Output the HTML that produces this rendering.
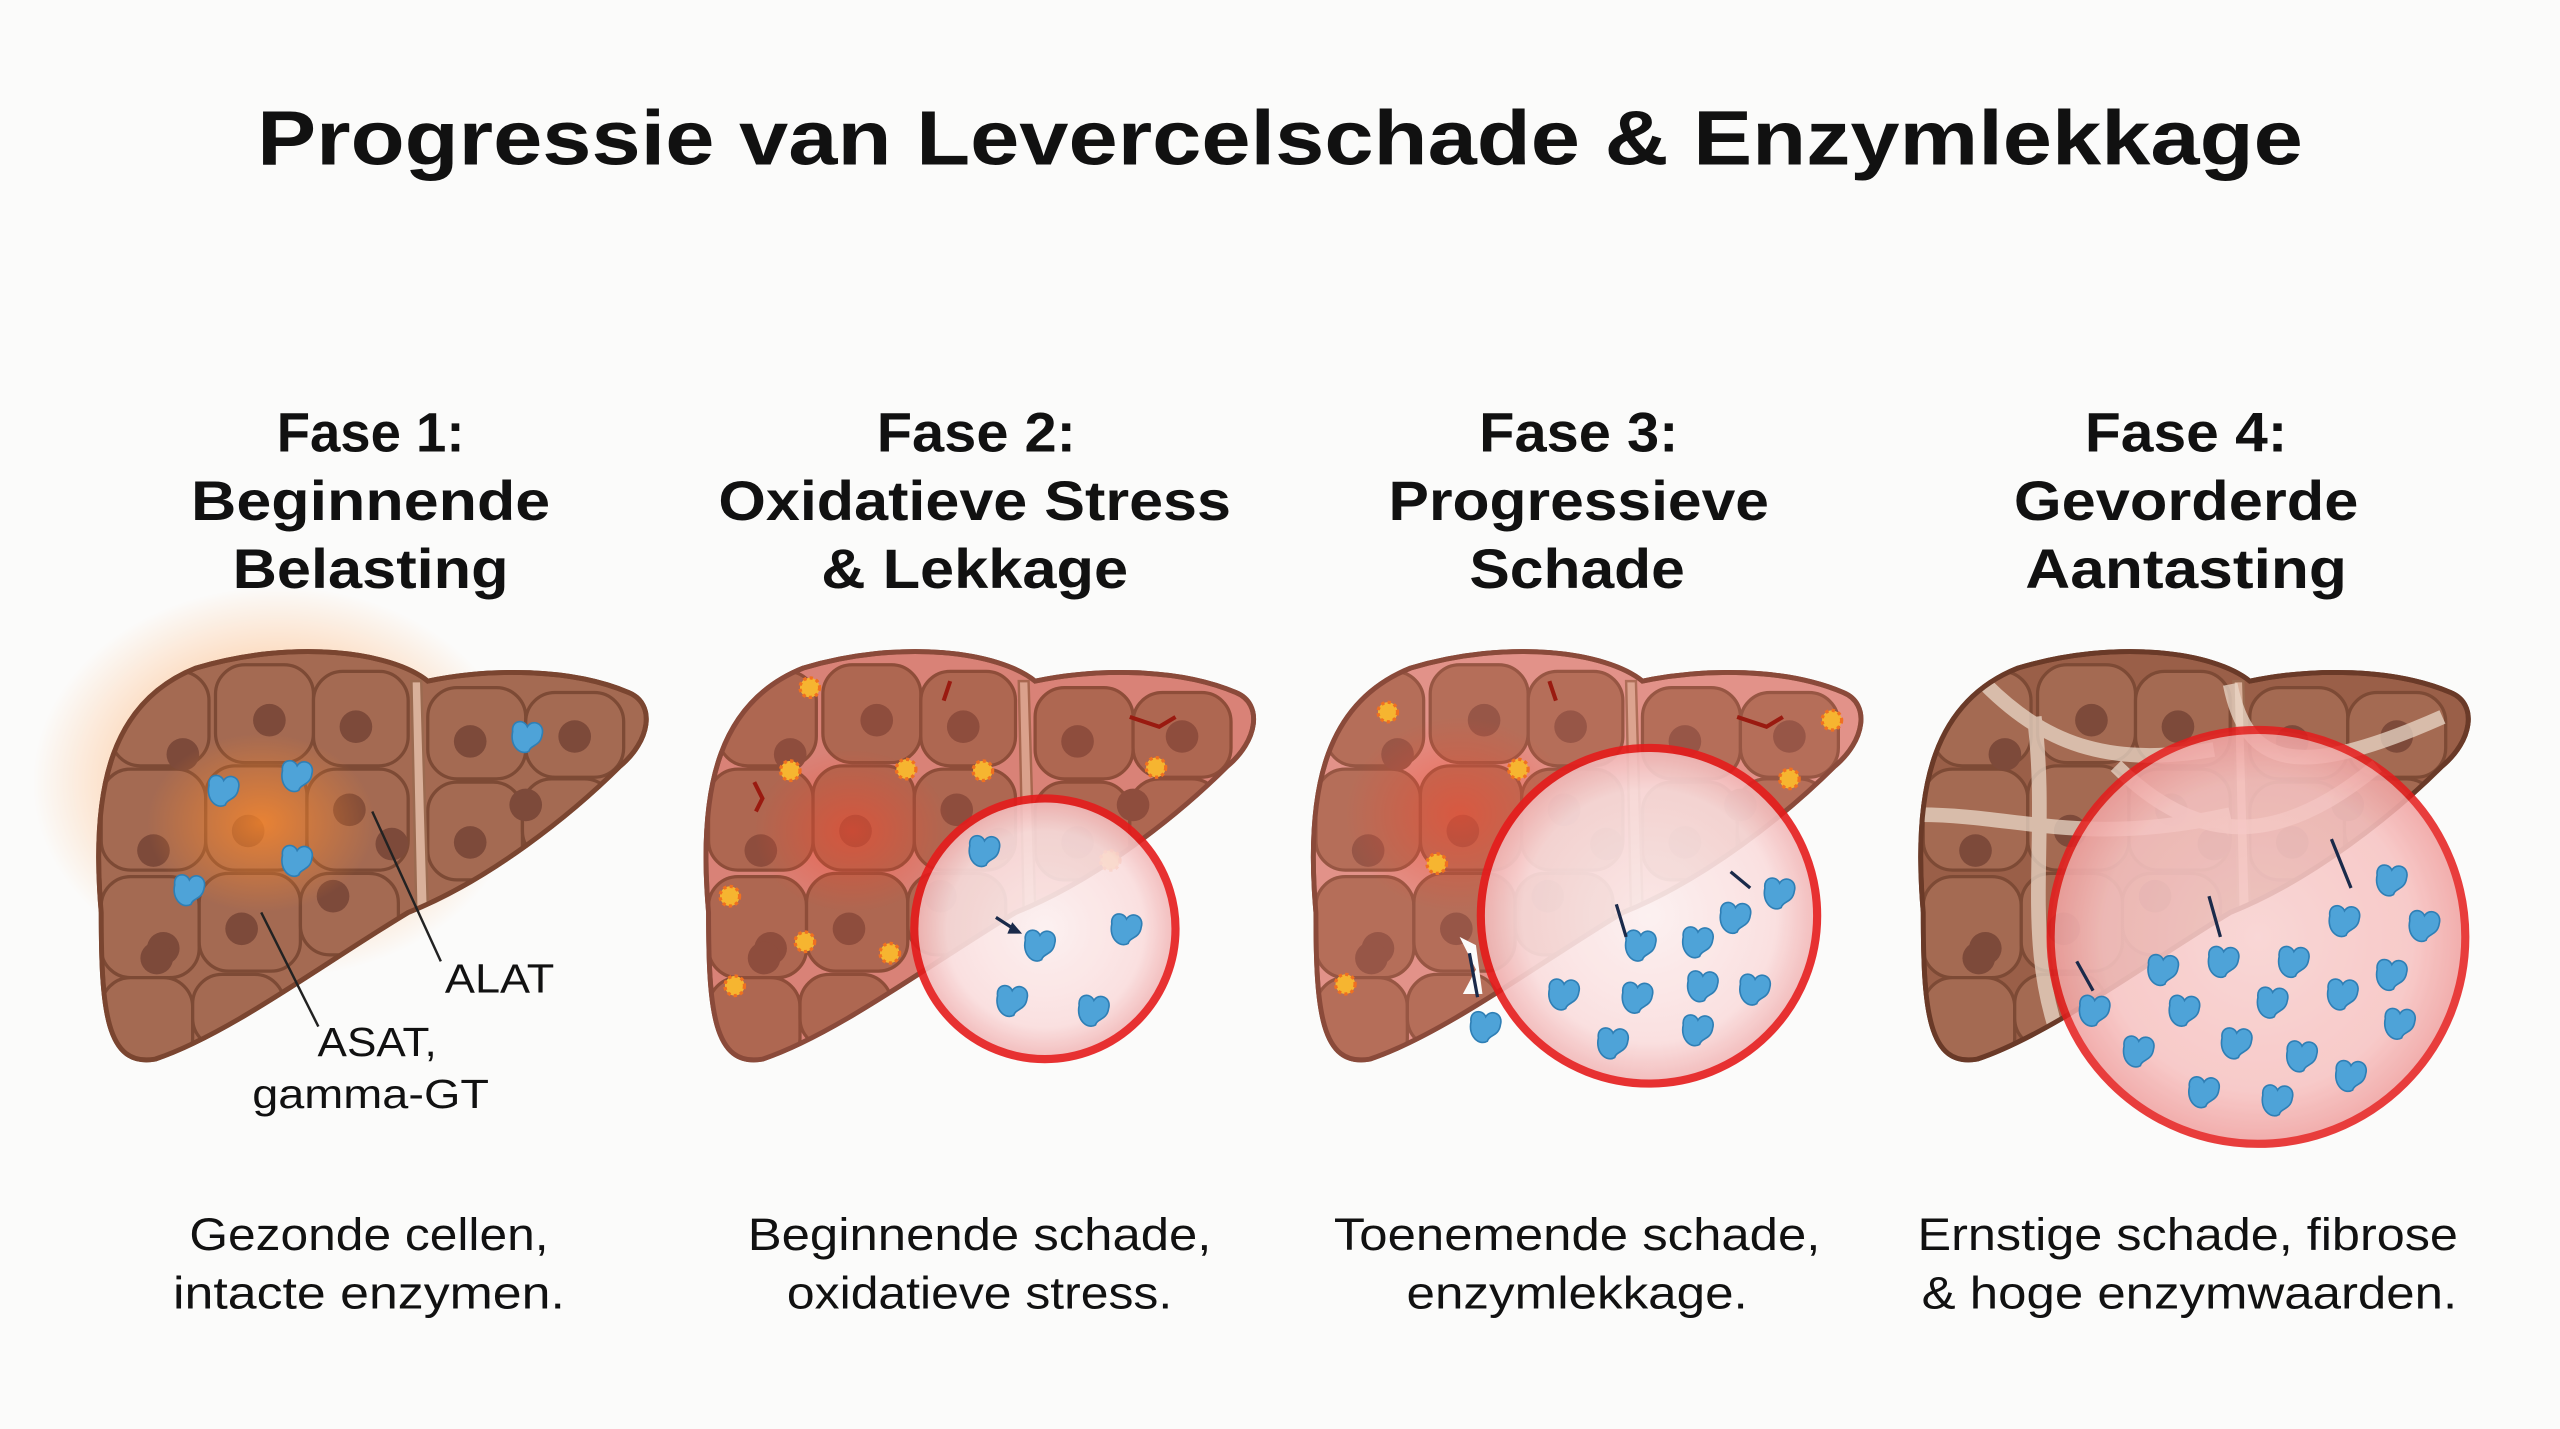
<!DOCTYPE html>
<html><head><meta charset="utf-8"><style>
html,body{margin:0;padding:0;background:#fbfbfa;}
svg{display:block;}
text{font-family:"Liberation Sans",sans-serif;fill:#111;}
</style></head><body>
<svg width="2560" height="1429" viewBox="0 0 1568 877" preserveAspectRatio="none" xmlns="http://www.w3.org/2000/svg">
<defs>
<path id="lv" d="M62,560 C55,480 70,430 120,410 C180,392 240,400 262,418 C300,410 350,410 385,425 C402,432 398,455 380,470 C350,500 300,540 250,560 C200,590 140,635 95,650 C65,655 62,620 62,560 Z"/>
<clipPath id="lc"><use href="#lv"/></clipPath>
<g id="cells">
<g fill="#a46a52" stroke="#7d4a35" stroke-width="2">
<rect x="68" y="412" width="60" height="58" rx="18"/><rect x="132" y="408" width="60" height="60" rx="18"/><rect x="192" y="412" width="58" height="58" rx="18"/>
<rect x="262" y="422" width="60" height="56" rx="18"/><rect x="322" y="425" width="60" height="52" rx="18"/>
<rect x="62" y="472" width="64" height="62" rx="18"/><rect x="126" y="470" width="62" height="64" rx="18"/><rect x="188" y="472" width="62" height="62" rx="18"/>
<rect x="262" y="480" width="58" height="60" rx="18"/><rect x="320" y="478" width="56" height="50" rx="18"/>
<rect x="62" y="538" width="60" height="62" rx="18"/><rect x="122" y="536" width="62" height="60" rx="18"/><rect x="184" y="536" width="60" height="50" rx="18"/>
<rect x="62" y="600" width="56" height="55" rx="18"/><rect x="118" y="598" width="56" height="45" rx="18"/>
</g>
<g fill="#7d4a3a">
<circle cx="112" cy="463" r="10"/><circle cx="165" cy="442" r="10"/><circle cx="218" cy="446" r="10"/><circle cx="288" cy="455" r="10"/><circle cx="352" cy="452" r="10"/>
<circle cx="94" cy="522" r="10"/><circle cx="152" cy="510" r="10"/><circle cx="214" cy="497" r="10"/><circle cx="288" cy="517" r="10"/><circle cx="322" cy="494" r="10"/>
<circle cx="100" cy="582" r="10"/><circle cx="148" cy="570" r="10"/><circle cx="204" cy="550" r="10"/><circle cx="96" cy="588" r="10"/><circle cx="240" cy="518" r="10"/>
</g>
<path d="M252,418 L258,418 L262,555 L255,560 Z" fill="#d9b09a" stroke="#9b6a50" stroke-width="1.5"/>
</g>
<radialGradient id="glow1"><stop offset="0" stop-color="#ff8a2a" stop-opacity=".75"/><stop offset="1" stop-color="#ff8a2a" stop-opacity="0"/></radialGradient>
<radialGradient id="glowR"><stop offset="0" stop-color="#f04a30" stop-opacity=".6"/><stop offset="1" stop-color="#f04a30" stop-opacity="0"/></radialGradient>
<radialGradient id="mag"><stop offset="0" stop-color="#fdf0f0"/><stop offset=".75" stop-color="#fadede"/><stop offset="1" stop-color="#f2b5b5"/></radialGradient>
<g id="enz"><path d="M-9,-3 C-10,-10 -2,-11 0,-6 C3,-11 11,-8 9,-1 C8,6 2,5 1,9 C-4,12 -11,6 -9,-3 Z" fill="#4ea3d8" stroke="#2f7fb5" stroke-width="1"/></g>
<g id="burst"><circle r="6" fill="#f6b530" stroke="#f07020" stroke-width="2" stroke-dasharray="2 2"/></g>
</defs>

<text x="784" y="101" text-anchor="middle" font-size="47" font-weight="bold" textLength="1253" lengthAdjust="spacingAndGlyphs">Progressie van Levercelschade &amp; Enzymlekkage</text>

<g font-size="34" font-weight="bold" text-anchor="middle">
<text x="227" y="277" textLength="115" lengthAdjust="spacingAndGlyphs">Fase 1:</text><text x="227" y="319" textLength="220" lengthAdjust="spacingAndGlyphs">Beginnende</text><text x="227" y="361" textLength="169" lengthAdjust="spacingAndGlyphs">Belasting</text>
<text x="598" y="277" textLength="122" lengthAdjust="spacingAndGlyphs">Fase 2:</text><text x="597" y="319" textLength="314" lengthAdjust="spacingAndGlyphs">Oxidatieve Stress</text><text x="597" y="361" textLength="188" lengthAdjust="spacingAndGlyphs">&amp; Lekkage</text>
<text x="967" y="277" textLength="122" lengthAdjust="spacingAndGlyphs">Fase 3:</text><text x="967" y="319" textLength="233" lengthAdjust="spacingAndGlyphs">Progressieve</text><text x="966" y="361" textLength="132" lengthAdjust="spacingAndGlyphs">Schade</text>
<text x="1339" y="277" textLength="124" lengthAdjust="spacingAndGlyphs">Fase 4:</text><text x="1339" y="319" textLength="211" lengthAdjust="spacingAndGlyphs">Gevorderde</text><text x="1339" y="361" textLength="197" lengthAdjust="spacingAndGlyphs">Aantasting</text>
</g>
<g font-size="28" text-anchor="middle">
<text x="226" y="767" textLength="220" lengthAdjust="spacingAndGlyphs">Gezonde cellen,</text><text x="226" y="803" textLength="240" lengthAdjust="spacingAndGlyphs">intacte enzymen.</text>
<text x="600" y="767" textLength="284" lengthAdjust="spacingAndGlyphs">Beginnende schade,</text><text x="600" y="803" textLength="236" lengthAdjust="spacingAndGlyphs">oxidatieve stress.</text>
<text x="966" y="767" textLength="298" lengthAdjust="spacingAndGlyphs">Toenemende schade,</text><text x="966" y="803" textLength="209" lengthAdjust="spacingAndGlyphs">enzymlekkage.</text>
<text x="1340" y="767" textLength="331" lengthAdjust="spacingAndGlyphs">Ernstige schade, fibrose</text><text x="1341" y="803" textLength="328" lengthAdjust="spacingAndGlyphs">&amp; hoge enzymwaarden.</text>
</g>

<!-- Liver 1 -->
<ellipse cx="170" cy="480" rx="150" ry="120" fill="url(#glow1)"/>
<g><use href="#lv" fill="#a46a52" stroke="#7a4530" stroke-width="3"/>
<g clip-path="url(#lc)"><use href="#cells"/><ellipse cx="160" cy="505" rx="70" ry="55" fill="url(#glow1)"/></g>
<use href="#lv" fill="none" stroke="#7a4530" stroke-width="3"/></g>
<use href="#enz" x="137" y="485"/><use href="#enz" x="182" y="476"/><use href="#enz" x="182" y="528"/><use href="#enz" x="116" y="546"/><use href="#enz" x="323" y="452"/>
<path d="M228,498 L270,590" stroke="#222" stroke-width="1.5"/><path d="M160,560 L195,630" stroke="#222" stroke-width="1.5"/>
<g font-size="25" text-anchor="middle"><text x="306" y="609" textLength="67" lengthAdjust="spacingAndGlyphs">ALAT</text><text x="231" y="648" textLength="73" lengthAdjust="spacingAndGlyphs">ASAT,</text><text x="227" y="680" textLength="145" lengthAdjust="spacingAndGlyphs">gamma-GT</text></g>

<!-- Liver 2 -->
<g transform="translate(372,0)">
<use href="#lv" fill="#d88a80" stroke="#8a4a3a" stroke-width="3"/>
<g clip-path="url(#lc)"><use href="#cells"/><rect x="50" y="390" width="360" height="270" fill="#e06050" opacity=".18"/><ellipse cx="150" cy="510" rx="60" ry="50" fill="url(#glowR)"/></g>
<use href="#lv" fill="none" stroke="#8a4a3a" stroke-width="3"/>
<use href="#burst" x="124" y="422"/><use href="#burst" x="112" y="473"/><use href="#burst" x="183" y="472"/><use href="#burst" x="230" y="473"/><use href="#burst" x="75" y="550"/><use href="#burst" x="121" y="578"/><use href="#burst" x="173" y="585"/><use href="#burst" x="78" y="605"/><use href="#burst" x="336" y="471"/><use href="#burst" x="308" y="528"/>
<path d="M90,480 l5,10 -4,8 M210,418 l-4,12 M320,440 l18,6 10,-6" stroke="#9a1a10" stroke-width="2.5" fill="none"/>
</g>
<circle cx="640" cy="570" r="80" fill="url(#mag)" opacity=".9" stroke="#e51c1c" stroke-width="5"/>
<use href="#enz" x="603" y="522"/><use href="#enz" x="637" y="580"/><use href="#enz" x="690" y="570"/><use href="#enz" x="620" y="614"/><use href="#enz" x="670" y="620"/>
<path d="M610,563 L624,572" stroke="#1a2a4a" stroke-width="2"/><path d="M620,566 l6,7 -9,0z" fill="#1a2a4a"/>

<!-- Liver 3 -->
<g transform="translate(744,0)">
<use href="#lv" fill="#e09a92" stroke="#8a4a3a" stroke-width="3"/>
<g clip-path="url(#lc)"><use href="#cells"/><rect x="50" y="390" width="360" height="270" fill="#e87a70" opacity=".25"/><ellipse cx="150" cy="500" rx="70" ry="60" fill="url(#glowR)"/></g>
<use href="#lv" fill="none" stroke="#8a4a3a" stroke-width="3"/>
<use href="#burst" x="106" y="437"/><use href="#burst" x="186" y="472"/><use href="#burst" x="136" y="530"/><use href="#burst" x="80" y="604"/><use href="#burst" x="378" y="442"/><use href="#burst" x="352" y="478"/>
<path d="M205,418 l4,12 M320,440 l18,6 10,-6" stroke="#9a1a10" stroke-width="2.5" fill="none"/>
<path d="M150,575 l10,20 -8,15 12,0 -4,-30z" fill="#fbfbfa"/>
</g>
<circle cx="1010" cy="562" r="103" fill="url(#mag)" opacity=".9" stroke="#e51c1c" stroke-width="5"/>
<g><use href="#enz" x="1005" y="580"/><use href="#enz" x="1040" y="578"/><use href="#enz" x="1063" y="563"/><use href="#enz" x="1090" y="548"/><use href="#enz" x="958" y="610"/><use href="#enz" x="1003" y="612"/><use href="#enz" x="1043" y="605"/><use href="#enz" x="1075" y="607"/><use href="#enz" x="988" y="640"/><use href="#enz" x="1040" y="632"/><use href="#enz" x="910" y="630"/></g>
<path d="M990,555 L996,575 M1060,535 L1072,545 M900,585 L905,612" stroke="#1a2a4a" stroke-width="2"/>

<!-- Liver 4 -->
<g transform="translate(1116,0)">
<use href="#lv" fill="#9a5f48" stroke="#6a3a28" stroke-width="3"/>
<g clip-path="url(#lc)"><use href="#cells"/>
<path d="M100,420 C140,460 180,470 240,460 M60,500 C120,500 160,520 250,500 M130,440 C140,520 120,580 150,650 M180,470 C230,520 280,520 340,470 M250,420 C260,470 290,480 380,440" stroke="#ead8c8" stroke-width="9" fill="none" opacity=".75"/></g>
<use href="#lv" fill="none" stroke="#6a3a28" stroke-width="3"/>
</g>
<circle cx="1383" cy="575" r="127" fill="url(#mag)" opacity=".85" stroke="#e51c1c" stroke-width="5"/>
<circle cx="1383" cy="575" r="127" fill="#e8403a" opacity=".15"/>
<g><use href="#enz" x="1465" y="540"/><use href="#enz" x="1436" y="565"/><use href="#enz" x="1485" y="568"/><use href="#enz" x="1362" y="590"/><use href="#enz" x="1405" y="590"/><use href="#enz" x="1325" y="595"/><use href="#enz" x="1465" y="598"/><use href="#enz" x="1392" y="615"/><use href="#enz" x="1435" y="610"/><use href="#enz" x="1338" y="620"/><use href="#enz" x="1310" y="645"/><use href="#enz" x="1370" y="640"/><use href="#enz" x="1470" y="628"/><use href="#enz" x="1410" y="648"/><use href="#enz" x="1350" y="670"/><use href="#enz" x="1395" y="675"/><use href="#enz" x="1440" y="660"/><use href="#enz" x="1283" y="620"/></g>
<path d="M1428,515 L1440,545 M1353,550 L1360,575 M1272,590 L1282,608" stroke="#1a2a4a" stroke-width="2"/>
</svg>
</body></html>
